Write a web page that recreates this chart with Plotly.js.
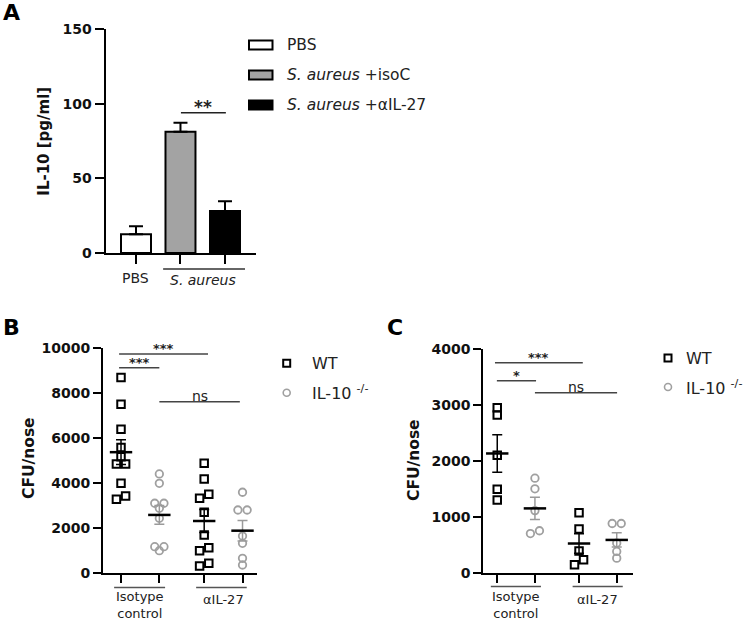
<!DOCTYPE html>
<html><head><meta charset="utf-8">
<script src="https://cdn.plot.ly/plotly-3.0.1.min.js"></script>
<style>html,body{margin:0;padding:0;background:#fff}#plot{width:750px;height:623px}</style>
</head><body><div id="plot"></div>
<script>
// ---------- DATA ----------
// Panel A: IL-10 [pg/ml], bars mean + SEM
const groupsA = ["PBS", "S. aureus +isoC", "S. aureus +αIL-27"];
const meansA = [12.5, 81.2, 28.1];
const semA = [5.4, 6.1, 6.5];
const ticksA = [0, 50, 100, 150];

// Panel B: CFU/nose
const conditions = ["Isotype control", "αIL-27"];
const seriesNames = ["WT", "IL-10 -/-"];
const B_WT_iso  = [8694, 7508, 6393, 5574, 5172, 4846, 4846, 3985, 3419, 3270];
const B_KO_iso  = [4400, 3985, 3094, 3094, 2871, 2425, 1160, 1160, 981];
const B_WT_aIL  = [4874, 4177, 3493, 3315, 2690, 1680, 1114, 981, 418, 298];
const B_KO_aIL  = [3585, 2795, 2795, 1636, 1311, 642, 343];
const ticksB = [0, 2000, 4000, 6000, 8000, 10000];

// Panel C: CFU/nose
const C_WT_iso  = [2950, 2820, 2100, 1490, 1300];
const C_KO_iso  = [1690, 1500, 1110, 750, 700];
const C_WT_aIL  = [1070, 780, 390, 230, 140];
const C_KO_aIL  = [880, 880, 530, 380, 260];
const ticksC = [0, 1000, 2000, 3000, 4000];

// ---------- LAYOUT HELPERS ----------
const W = 750, H = 623;
const fx = px => px / W;
const fy = py => 1 - py / H;
const FONT = "DejaVu Sans";
const groupPos = [0, 1, 2.17, 3.17];   // WT-iso, KO-iso, WT-aIL, KO-aIL
const barPos = [0, 1, 2];

function mean(a){ return a.reduce((s,v)=>s+v,0)/a.length; }
function sem(a){ const m = mean(a); const v = a.reduce((s,x)=>s+(x-m)*(x-m),0)/(a.length-1); return Math.sqrt(v/a.length); }

// simple symmetric swarm offsets for close values
function swarm(vals, thr, h){
  const idx = vals.map((v,i)=>i).sort((a,b)=>vals[a]-vals[b]);
  const off = new Array(vals.length).fill(0);
  let clusters = [], cur = [idx[0]];
  for (let k=1;k<idx.length;k++){
    if (vals[idx[k]] - vals[idx[k-1]] < thr) cur.push(idx[k]);
    else { clusters.push(cur); cur = [idx[k]]; }
  }
  clusters.push(cur);
  clusters.forEach(c=>{
    if (c.length===2){ off[c[0]]=-h; off[c[1]]=h; }
    else if (c.length===3){
      const g01 = vals[c[1]]-vals[c[0]], g12 = vals[c[2]]-vals[c[1]];
      if (g01 < g12){ off[c[0]]=-h; off[c[1]]=h; off[c[2]]=0; }
      else { off[c[0]]=0; off[c[1]]=-h; off[c[2]]=h; }
    } else if (c.length>3){
      c.forEach((i,k)=>{ off[i] = (k%2===0)?-h:h; });
    }
  });
  return off;
}

const traces = [];
// Panel A bars
traces.push({
  type:'bar', x: barPos, y: meansA, xaxis:'x', yaxis:'y', width: 0.674,
  marker:{color:['#ffffff','#a3a3a3','#000000'], line:{color:'#000', width:2}},
  error_y:{type:'data', symmetric:false, array: semA, arrayminus:[0,0,0], color:'#000', thickness:2, width:7},
  showlegend:false, hoverinfo:'skip', name: 'A'
});

function addScatterPanel(groups, xa, ya, thr){
  groups.forEach((vals, g)=>{
    const isWT = (g % 2 === 0);
    const off = swarm(vals, thr, 0.12);
    traces.push({
      type:'scatter', mode:'markers', xaxis:xa, yaxis:ya,
      x: vals.map((v,i)=>groupPos[g]+off[i]), y: vals,
      marker: isWT ? {symbol:'square-open', size:7.5, color:'#000', line:{width:2, color:'#000'}}
                   : {symbol:'circle-open', size:7.5, color:'#a0a0a0', line:{width:1.8, color:'#a0a0a0'}},
      showlegend:false, hoverinfo:'skip', cliponaxis:false
    });
  });
  groups.forEach((vals, g)=>{
    const isWT = (g % 2 === 0);
    traces.push({
      type:'scatter', mode:'markers', xaxis:xa, yaxis:ya,
      x:[groupPos[g]], y:[mean(vals)],
      marker:{symbol:'line-ew', size:16, color:'#000', line:{width:2.5, color:'#000'}},
      error_y:{type:'data', array:[sem(vals)], color: isWT ? '#000' : '#9a9a9a', thickness:1.5, width:5},
      showlegend:false, hoverinfo:'skip', cliponaxis:false
    });
  });
}
addScatterPanel([B_WT_iso, B_KO_iso, B_WT_aIL, B_KO_aIL], 'x2', 'y2', 290);
addScatterPanel([C_WT_iso, C_KO_iso, C_WT_aIL, C_KO_aIL], 'x3', 'y3', 116);

const axX = {showline:true, linewidth:2, linecolor:'#000', ticks:'outside', ticklen:8, tickwidth:2, tickcolor:'#000',
  showticklabels:false, showgrid:false, zeroline:false, fixedrange:true};
const axY = {showline:true, linewidth:2, linecolor:'#000', ticks:'outside', ticklen:8, tickwidth:2, tickcolor:'#000',
  showgrid:false, zeroline:false, fixedrange:true, tickfont:{family:FONT, size:14, color:'#111', weight:'bold'}};
const tt = arr => arr.map(v=>String(v));

const layout = {
  width: W, height: H, margin:{l:0,r:0,t:0,b:0}, paper_bgcolor:'#fff', plot_bgcolor:'rgba(0,0,0,0)',
  showlegend:false, font:{family:FONT, color:'#222'},
  xaxis: Object.assign({}, axX, {domain:[fx(105.5), fx(256)], range:[-0.685, 2.697], anchor:'y', tickvals:barPos, ticklen:9}),
  yaxis: Object.assign({}, axY, {domain:[fy(253), fy(29)], range:[0,150], anchor:'x', tickvals:ticksA, ticktext:tt(ticksA), ticklen:9}),
  xaxis2: Object.assign({}, axX, {domain:[fx(103), fx(256.7)], range:[-0.47, 3.54], anchor:'y2', tickvals:groupPos}),
  yaxis2: Object.assign({}, axY, {domain:[fy(572.7), fy(348.3)], range:[0,10000], anchor:'x2', tickvals:ticksB, ticktext:tt(ticksB)}),
  xaxis3: Object.assign({}, axX, {domain:[fx(483.3), fx(633.3)], range:[-0.37, 3.61], anchor:'y3', tickvals:groupPos}),
  yaxis3: Object.assign({}, axY, {domain:[fy(572.7), fy(349)], range:[0,4000], anchor:'x3', tickvals:ticksC, ticktext:tt(ticksC)}),
  shapes:[], annotations:[]
};

function ann(o){ layout.annotations.push(Object.assign({showarrow:false, xanchor:'center', yanchor:'middle',
  font:{family:FONT, size:13, color:'#222'}}, o)); }
function line(o){ layout.shapes.push(Object.assign({type:'line', line:{color:'#444', width:1.5}}, o)); }

// panel letters
[['A',11,13],['B',11,327],['C',395,327]].forEach(([t,x,y])=>ann({text:'<b>'+t+'</b>', xref:'paper', yref:'paper', x:fx(x), y:fy(y), font:{family:FONT, size:22, color:'#000'}}));

// y titles
ann({text:'<b>IL-10 [pg/ml]</b>', xref:'paper', yref:'paper', x:fx(44), y:fy(141.7), textangle:-90, font:{family:FONT, size:15, color:'#111'}});
ann({text:'<b>CFU/nose</b>', xref:'paper', yref:'paper', x:fx(29), y:fy(458), textangle:-90, font:{family:FONT, size:15.5, color:'#111'}});
ann({text:'<b>CFU/nose</b>', xref:'paper', yref:'paper', x:fx(414), y:fy(460), textangle:-90, font:{family:FONT, size:15.5, color:'#111'}});

// Panel A categorical labels
ann({text:'PBS', xref:'x', yref:'paper', x:barPos[0], y:fy(278), font:{family:FONT, size:14, color:'#222'}});
ann({text:'<i>S. aureus</i>', xref:'x', yref:'paper', x:(barPos[1]+barPos[2])/2, y:fy(280), font:{family:FONT, size:14, color:'#222'}});
line({xref:'x', yref:'paper', x0:0.61, x1:2.45, y0:fy(269), y1:fy(269), line:{color:'#333', width:1.5}});
// A significance
line({xref:'x', yref:'y', x0:1.01, x1:2.02, y0:94, y1:94, line:{color:'#222', width:1.5}});
ann({text:'<b>**</b>', xref:'x', yref:'y', x:1.5, y:94, yanchor:'bottom', yshift:-6, font:{family:FONT, size:17, color:'#222'}});

// Panel A legend
const legRowsA = [45, 75, 105];
const legFillA = ['#ffffff', '#a3a3a3', '#000000'];
const legTextA = ['PBS', '<i>S. aureus</i> +isoC', '<i>S. aureus</i> +αIL-27'];
legRowsA.forEach((cy,i)=>{
  layout.shapes.push({type:'rect', xref:'paper', yref:'paper', x0:fx(249), x1:fx(272.5), y0:fy(cy+4.5), y1:fy(cy-4.5),
    fillcolor:legFillA[i], line:{color:'#000', width:2}});
  ann({text:legTextA[i], xref:'paper', yref:'paper', x:fx(285), y:fy(cy), xanchor:'left', font:{family:FONT, size:15.5, color:'#222'}});
});

// B & C legends
function legendBC(xc, y1, y2, xt){
  layout.shapes.push({type:'rect', xref:'paper', yref:'paper', x0:fx(xc-3.5), x1:fx(xc+3.5), y0:fy(y1+3.5), y1:fy(y1-3.5), line:{color:'#000', width:2}});
  layout.shapes.push({type:'circle', xref:'paper', yref:'paper', x0:fx(xc-3.5), x1:fx(xc+3.5), y0:fy(y2+3.5), y1:fy(y2-3.5), line:{color:'#a0a0a0', width:1.6}});
  ann({text:seriesNames[0], xref:'paper', yref:'paper', x:fx(xt), y:fy(y1), xanchor:'left', font:{family:FONT, size:16, color:'#222'}});
  ann({text:'IL-10 <sup>-/-</sup>', xref:'paper', yref:'paper', x:fx(xt), y:fy(y2), xanchor:'left', font:{family:FONT, size:16, color:'#222'}});
}
legendBC(286.7, 363.3, 392.7, 310);
legendBC(668, 358, 387, 684);

// category labels B & C
function catLabels(xa, uIso, uAIL, yU){
  line({xref:xa, yref:'paper', x0:uIso[0], x1:uIso[1], y0:fy(yU), y1:fy(yU), line:{color:'#555', width:1.5}});
  line({xref:xa, yref:'paper', x0:uAIL[0], x1:uAIL[1], y0:fy(yU), y1:fy(yU), line:{color:'#555', width:1.5}});
  ann({text:'Isotype<br>control', xref:xa, yref:'paper', x:(groupPos[0]+groupPos[1])/2, y:fy(622), yanchor:'bottom', borderpad:0, font:{family:FONT, size:13, color:'#222'}});
  ann({text:conditions[1], xref:xa, yref:'paper', x:(groupPos[2]+groupPos[3])/2, y:fy(590), yanchor:'top', font:{family:FONT, size:13, color:'#222'}});
}
catLabels('x2', [-0.18, 1.15], [1.96, 3.28], 587.5);
catLabels('x3', [-0.17, 1.16], [2.0, 3.33], 586.5);

// significance B & C
function sig(xa, ya, x0, x1, y, txt, size, bold){
  line({xref:xa, yref:ya, x0:x0, x1:x1, y0:y, y1:y});
  ann({text: bold ? '<b>'+txt+'</b>' : txt, xref:xa, yref:ya, x:(x0+x1)/2, y:y, yanchor:'bottom', yshift:-4, font:{family:FONT, size:size, color:'#222'}});
}
sig('x2','y2', -0.05, 2.27, 9750, '***', 13, true);
sig('x2','y2', -0.05, 1.0, 9130, '***', 13, true);
sig('x2','y2', 1.0, 3.1, 7620, 'ns', 14, false);
sig('x3','y3', -0.06, 2.27, 3755, '***', 13, true);
sig('x3','y3', -0.01, 1.03, 3433, '*', 13, true);
sig('x3','y3', 1.0, 3.18, 3219, 'ns', 14, false);

Plotly.newPlot('plot', traces, layout, {displayModeBar:false, staticPlot:true});
</script></body></html>
